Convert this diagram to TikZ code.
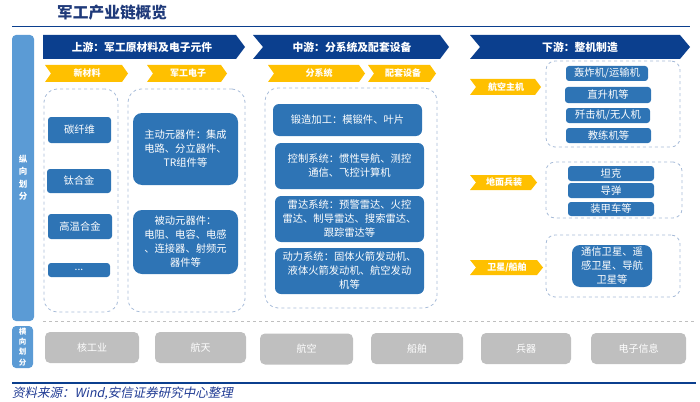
\documentclass[tikz,border=0pt]{standalone}
\usepackage{fontspec}
\setmainfont{Noto Sans CJK SC}
\newfontfamily\cjk{Noto Sans CJK SC}
\newfontfamily\cjkslant[FakeSlant=0.2]{Noto Sans CJK SC}
\definecolor{navy}{HTML}{0B3F8E}
\definecolor{ylw}{HTML}{FFC000}
\definecolor{boxblue}{HTML}{2E74B5}
\definecolor{barblue}{HTML}{5B9BD5}
\definecolor{graybox}{HTML}{BFBFBF}
\definecolor{dashc}{HTML}{A6BBD8}
\definecolor{titlec}{HTML}{1F3A7A}
\definecolor{srcc}{HTML}{1F3A93}
\tikzset{
  box/.style={rectangle, rounded corners=3pt, fill=boxblue, text=white, inner sep=0pt, align=center, font=\cjk\fontsize{10.3}{14}\selectfont},
  bigbox/.style={box, rounded corners=9pt},
  dbox/.style={rectangle, draw=dashc, dashed, line width=0.8pt, rounded corners=13pt, inner sep=0pt},
  sdbox/.style={dbox, rounded corners=9pt},
  gbox/.style={rectangle, rounded corners=5pt, fill=graybox, text=white, inner sep=0pt, font=\cjk\fontsize{10}{10}\selectfont},
  vbar/.style={rectangle, rounded corners=4pt, fill=barblue, text=white, inner sep=0pt, align=center},
  navytxt/.style={text=white, font=\cjk\bfseries\fontsize{10.8}{12}\selectfont, inner sep=0pt},
  ylwtxt/.style={text=white, font=\cjk\bfseries\fontsize{9}{10}\selectfont, inner sep=0pt},
}
\begin{document}
\begin{tikzpicture}[x=1pt,y=-1pt]
\useasboundingbox (0,0) rectangle (700,401);
% title and rules
\node[anchor=west, text=titlec, font=\cjk\bfseries\fontsize{15.7}{16}\selectfont, inner sep=0pt] (title) at (57,13) {军工产业链概览};
\coordinate (tl1) at (12,27); \coordinate (tl2) at (690,27);
\draw[navy, line width=1pt] (tl1) -- (tl2);
\coordinate (bl1) at (12,383); \coordinate (bl2) at (696,383);
\draw[navy, line width=1.2pt] (bl1) -- (bl2);
\node[anchor=west, text=srcc, font=\cjkslant\fontsize{12.5}{13}\selectfont, inner sep=0pt] (src) at (12,393) {资料来源：Wind,安信证券研究中心整理};
% vertical bars
\node[vbar, minimum width=22pt, minimum height=286pt, font=\cjk\bfseries\fontsize{8.5}{12.5}\selectfont] (v1) at (23,178) {纵\\向\\划\\分};
\node[vbar, minimum width=21pt, minimum height=42pt, font=\cjk\bfseries\fontsize{7.5}{10.3}\selectfont] (v2) at (22.5,347) {横\\向\\划\\分};
% separator
\coordinate (s1) at (43,321); \coordinate (s2) at (696,321);
\draw[graybox, dashed, line width=0.8pt] (s1) -- (s2);
% navy chevrons
\fill[navy] (43,35) -- (236,35) -- (245,47) -- (236,59) -- (43,59) -- cycle;
\node[navytxt] (up) at (142,47) {上游：军工原材料及电子元件};
\fill[navy] (253,35) -- (440,35) -- (449,47) -- (440,59) -- (253,59) -- (263,47) -- cycle;
\node[navytxt] (mid) at (352,47) {中游：分系统及配套设备};
\fill[navy] (470,35) -- (680,35) -- (690,47) -- (680,59) -- (470,59) -- (480,47) -- cycle;
\node[navytxt] (down) at (580,47) {下游：整机制造};
% yellow chevrons
\fill[ylw] (45,65) -- (122,65) -- (128,73.5) -- (122,82) -- (45,82) -- (51,73.5) -- cycle;
\node[ylwtxt] (y1) at (87,73.5) {新材料};
\fill[ylw] (147,65) -- (221,65) -- (227,73.5) -- (221,82) -- (147,82) -- (153,73.5) -- cycle;
\node[ylwtxt] (y2) at (188,73.5) {军工电子};
\fill[ylw] (268,65) -- (359,65) -- (365,73.5) -- (359,82) -- (268,82) -- (274,73.5) -- cycle;
\node[ylwtxt] (y3) at (319,73.5) {分系统};
\fill[ylw] (368,65) -- (430,65) -- (436,73.5) -- (430,82) -- (368,82) -- (374,73.5) -- cycle;
\node[ylwtxt] (y4) at (403,73.5) {配套设备};
\fill[ylw] (470,79) -- (535,79) -- (541,87) -- (535,95) -- (470,95) -- (476,87) -- cycle;
\node[ylwtxt] (y5) at (506,87) {航空主机};
\fill[ylw] (470,175) -- (531,175) -- (537,182.5) -- (531,190) -- (470,190) -- (476,182.5) -- cycle;
\node[ylwtxt] (y6) at (504,182.5) {地面兵装};
\fill[ylw] (470,260) -- (537,260) -- (543,267.5) -- (537,275) -- (470,275) -- (476,267.5) -- cycle;
\node[ylwtxt] (y7) at (507,267.5) {卫星/船舶};
% dashed containers
\node[dbox, minimum width=74pt, minimum height=223pt] (d1) at (81,200.5) {};
\node[dbox, minimum width=117pt, minimum height=223pt] (d2) at (186.5,200.5) {};
\node[dbox, minimum width=172pt, minimum height=220pt] (d3) at (351,198) {};
\node[sdbox, minimum width=134pt, minimum height=86pt] (d4) at (613,104) {};
\node[sdbox, minimum width=136pt, minimum height=56pt] (d5) at (614,190) {};
\node[sdbox, minimum width=134pt, minimum height=62pt] (d6) at (613,266) {};
% upstream boxes
\node[box, minimum width=63pt, minimum height=26pt] (b1) at (79.5,130) {碳纤维};
\node[box, minimum width=64pt, minimum height=24pt] (b2) at (79,181) {钛合金};
\node[box, minimum width=64pt, minimum height=25pt] (b3) at (80,226.5) {高温合金};
\node[box, minimum width=62pt, minimum height=14pt] (b4) at (79,270) {...};
\node[bigbox, minimum width=105pt, minimum height=72pt] (b5) at (185.5,149) {主动元器件：集成\\电路、分立器件、\\TR组件等};
\node[bigbox, minimum width=105pt, minimum height=64pt] (b6) at (185.5,242) {被动元器件：\\电阻、电容、电感\\、连接器、射频元\\器件等};
% midstream boxes
\node[box, rounded corners=6pt, minimum width=149pt, minimum height=32pt] (m1) at (347.5,120) {锻造加工：模锻件、叶片};
\node[box, rounded corners=6pt, minimum width=149pt, minimum height=46pt] (m2) at (349.5,166) {控制系统：惯性导航、测控\\通信、飞控计算机};
\node[box, rounded corners=6pt, minimum width=149pt, minimum height=46pt] (m3) at (349.5,219) {雷达系统：预警雷达、火控\\雷达、制导雷达、搜索雷达、\\跟踪雷达等};
\node[box, rounded corners=6pt, minimum width=149pt, minimum height=46pt] (m4) at (349.5,271) {动力系统：固体火箭发动机、\\液体火箭发动机、航空发动\\机等};
% downstream boxes
\node[box, minimum width=82pt, minimum height=15pt] (r1) at (607,73.5) {轰炸机/运输机};
\node[box, minimum width=86pt, minimum height=16pt] (r2) at (608,95) {直升机等};
\node[box, minimum width=84pt, minimum height=15pt] (r3) at (608,115.5) {歼击机/无人机};
\node[box, minimum width=85pt, minimum height=15pt] (r4) at (608.5,135.5) {教练机等};
\node[box, minimum width=86pt, minimum height=15pt] (r5) at (611,173.5) {坦克};
\node[box, minimum width=86pt, minimum height=15pt] (r6) at (611,190.5) {导弹};
\node[box, minimum width=86pt, minimum height=14pt] (r7) at (611,209) {装甲车等};
\node[box, rounded corners=8pt, minimum width=80pt, minimum height=42pt] (r8) at (612,266) {通信卫星、遥\\感卫星、导航\\卫星等};
% horizontal division
\node[gbox, minimum width=94pt, minimum height=31pt] (g1) at (92,347.5) {核工业};
\node[gbox, minimum width=91pt, minimum height=31pt] (g2) at (200.5,347.5) {航天};
\node[gbox, minimum width=93pt, minimum height=31pt] (g3) at (306.5,349) {航空};
\node[gbox, minimum width=92pt, minimum height=31pt] (g4) at (417,348.5) {船舶};
\node[gbox, minimum width=90pt, minimum height=31pt] (g5) at (526,348.5) {兵器};
\node[gbox, minimum width=95pt, minimum height=31pt] (g6) at (638.5,348.5) {电子信息};
\end{tikzpicture}
\end{document}
